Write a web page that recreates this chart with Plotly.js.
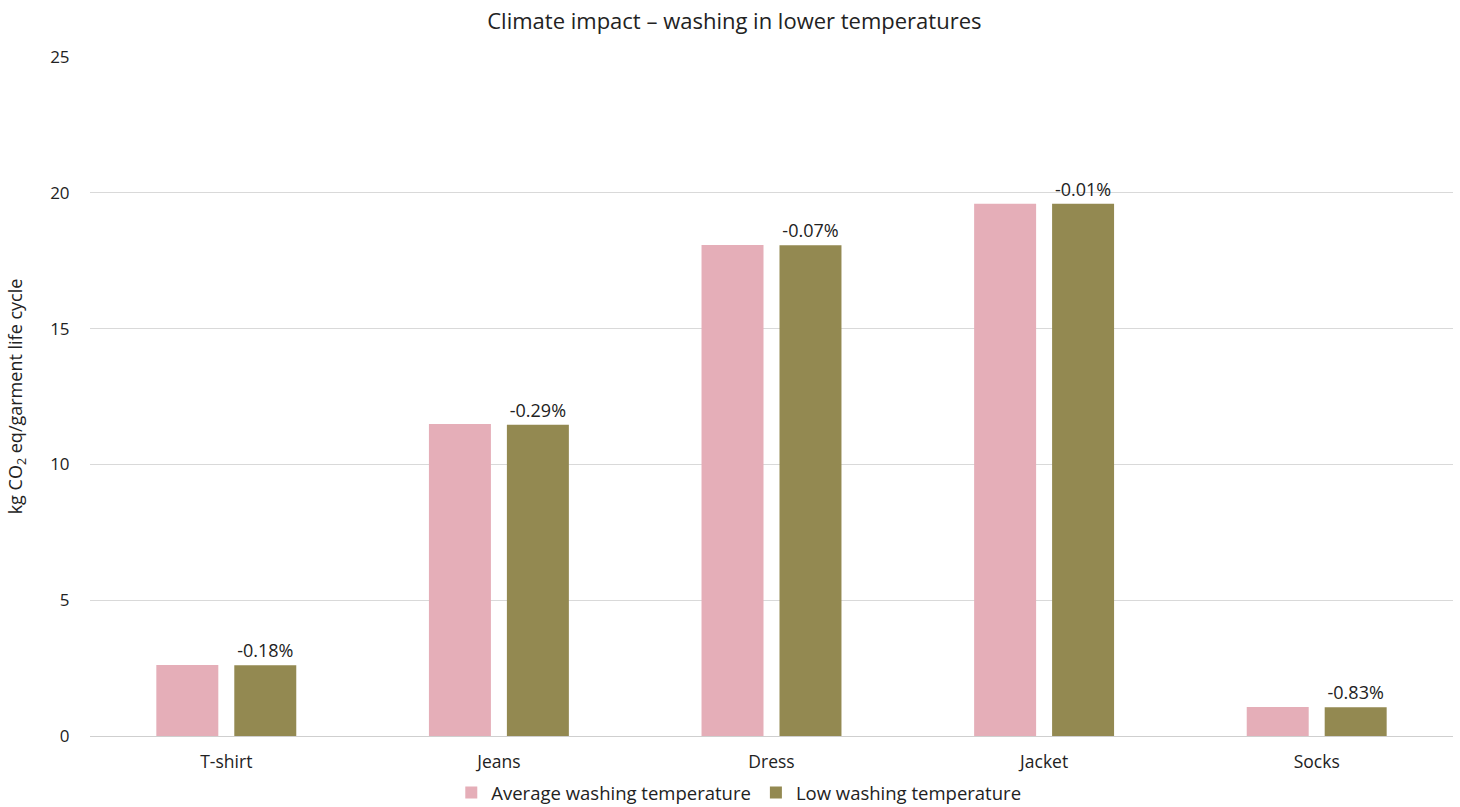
<!DOCTYPE html>
<html>
<head>
<meta charset="utf-8">
<script src="https://cdn.plot.ly/plotly-3.0.1.min.js"></script>
<style>html,body{margin:0;padding:0;background:#fff;}#chart{width:1460px;height:807px;}</style>
</head>
<body>
<div id="chart"></div>
<script>
const categories = ["T-shirt", "Jeans", "Dress", "Jacket", "Socks"];
const averageTemp = [2.61, 11.49, 18.08, 19.60, 1.07];
const lowTemp = [2.605, 11.457, 18.067, 19.598, 1.061];
const changeLabels = ["-0.18%", "-0.29%", "-0.07%", "-0.01%", "-0.83%"];
const seriesNames = ["Average washing temperature", "Low washing temperature"];
const yTicks = [0, 5, 10, 15, 20, 25];

const fontFamily = "'Open Sans', 'Noto Sans', sans-serif";
const traces = [
  {
    type: "bar", name: seriesNames[0], x: categories, y: averageTemp,
    marker: {color: "#E5AEB8"}, hoverinfo: "x+y"
  },
  {
    type: "bar", name: seriesNames[1], x: categories, y: lowTemp,
    marker: {color: "#938951"}, text: changeLabels, textposition: "outside",
    textfont: {size: 18, color: "#222"}, cliponaxis: false, hoverinfo: "x+y"
  }
];
const layout = {
  width: 1460, height: 807,
  margin: {l: 90, r: 7, t: 57, b: 71, autoexpand: false},
  paper_bgcolor: "#fff", plot_bgcolor: "#fff",
  font: {family: fontFamily, size: 17, color: "#222"},
  title: {text: "Climate impact – washing in lower temperatures", x: 0.503, xanchor: "center", y: 0.973, yanchor: "middle", font: {size: 22, color: "#222"}},
  barmode: "group", bargap: 0.428, bargroupgap: 0.205,
  xaxis: {tickfont: {size: 17.5}, showgrid: false, ticks: "outside", ticklen: 10, tickcolor: "rgba(0,0,0,0)", showline: false, zeroline: false, automargin: false},
  yaxis: {
    range: [0, 25], tickvals: yTicks, ticktext: yTicks.map(String),
    gridcolor: "#d9d9d9", gridwidth: 1, zeroline: true, zerolinecolor: "#cfcfcf", zerolinewidth: 1,
    tickfont: {size: 17}, ticks: "outside", ticklen: 16, tickcolor: "rgba(0,0,0,0)", showline: false, automargin: false,
    title: {text: "kg CO<sub>2</sub> eq/garment life cycle", font: {size: 18}, standoff: 22}
  },
  showlegend: true,
  legend: {orientation: "h", x: 0.476, xanchor: "center", y: -0.056, yanchor: "top", font: {size: 18.5}, traceorder: "normal", itemwidth: 30}
};
Plotly.newPlot("chart", traces, layout, {displayModeBar: false, staticPlot: true});
</script>
</body>
</html>
